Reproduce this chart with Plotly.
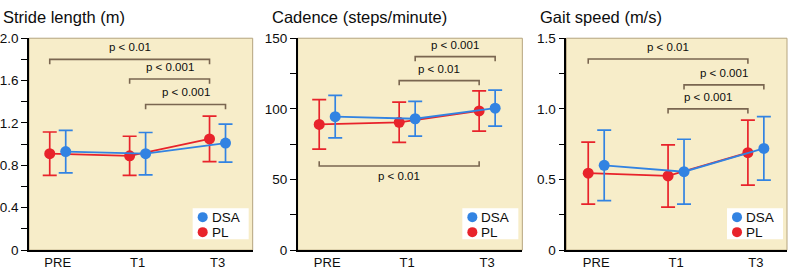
import plotly.graph_objects as go

# ---------------- data ----------------
categories = ["PRE", "T1", "T3"]
groups = ["DSA", "PL"]

titles = ["Stride length (m)", "Cadence (steps/minute)", "Gait speed (m/s)"]

stride_dsa = [0.93, 0.91, 1.01]
stride_dsa_err = [0.20, 0.20, 0.18]
stride_pl = [0.91, 0.89, 1.05]
stride_pl_err = [0.205, 0.185, 0.215]

cadence_dsa = [94.5, 93.0, 100.5]
cadence_dsa_err = [15.0, 12.3, 12.7]
cadence_pl = [89.0, 90.5, 98.5]
cadence_pl_err = [17.5, 14.2, 14.2]

speed_dsa = [0.60, 0.555, 0.72]
speed_dsa_err = [0.25, 0.23, 0.225]
speed_pl = [0.545, 0.525, 0.69]
speed_pl_err = [0.22, 0.22, 0.23]

# y tick values / labels per panel
stride_ticks = [0, 0.2, 0.4, 0.6, 0.8, 1.0, 1.2, 1.4, 1.6, 1.8, 2.0]
stride_ticklabels = ["0", "", "0.4", "", "0.8", "", "1.2", "", "1.6", "", "2.0"]
cadence_ticks = [0, 25, 50, 75, 100, 125, 150]
cadence_ticklabels = ["0", "", "50", "", "100", "", "150"]
speed_ticks = [0, 0.25, 0.5, 0.75, 1.0, 1.25, 1.5]
speed_ticklabels = ["0", "", "0.5", "", "1.0", "", "1.5"]

# significance brackets: (from category, group, to category, group, level, label, direction)
stride_brackets = [("PRE", "PL", "T3", "PL", 1.80, "p < 0.01", "down"),
                   ("T1", "PL", "T3", "PL", 1.615, "p < 0.001", "down"),
                   ("T1", "DSA", "T3", "DSA", 1.375, "p < 0.001", "down")]
cadence_brackets = [("T1", "DSA", "T3", "DSA", 137.0, "p < 0.001", "down"),
                    ("T1", "PL", "T3", "PL", 120.0, "p < 0.01", "down"),
                    ("PRE", "PL", "T3", "PL", 59.5, "p < 0.01", "up")]
speed_brackets = [("PRE", "PL", "T3", "PL", 1.353, "p < 0.01", "down"),
                  ("T1", "DSA", "T3", "DSA", 1.17, "p < 0.001", "down"),
                  ("T1", "PL", "T3", "PL", 1.0, "p < 0.001", "down")]

# ---------------- styling ----------------
W, H = 791, 278
BG = "#F7EDC9"
FRAME = "#B5A47E"
BRACKET = "#7A6650"
RED = "#E8232B"
BLUE = "#3283E2"
COLORS = {"DSA": BLUE, "PL": RED}
FONT = "Liberation Sans, Arial, sans-serif"
TXT = "#0d0d0d"
OFFSET = {"PL": -0.1, "DSA": 0.1}

panels = [
    dict(title=titles[0], dsa=stride_dsa, dsa_e=stride_dsa_err, pl=stride_pl, pl_e=stride_pl_err,
         ticks=stride_ticks, labels=stride_ticklabels, yr=[0, 2.0], br=stride_brackets,
         px=(28, 252), xr=[-0.36, 2.44]),
    dict(title=titles[1], dsa=cadence_dsa, dsa_e=cadence_dsa_err, pl=cadence_pl, pl_e=cadence_pl_err,
         ticks=cadence_ticks, labels=cadence_ticklabels, yr=[0, 150], br=cadence_brackets,
         px=(297, 522), xr=[-0.37, 2.44]),
    dict(title=titles[2], dsa=speed_dsa, dsa_e=speed_dsa_err, pl=speed_pl, pl_e=speed_pl_err,
         ticks=speed_ticks, labels=speed_ticklabels, yr=[0, 1.5], br=speed_brackets,
         px=(566, 787), xr=[-0.375, 2.39]),
]

TOP, BOTTOM = 33, 257
ydom = [(H - BOTTOM) / H, (H - TOP) / H]

fig = go.Figure()
idx = {c: i for i, c in enumerate(categories)}

for k, p in enumerate(panels):
    n = "" if k == 0 else str(k + 1)
    xa, ya = "x" + n, "y" + n
    for grp, vals, errs in (("PL", p["pl"], p["pl_e"]), ("DSA", p["dsa"], p["dsa_e"])):
        col = COLORS[grp]
        xs = [idx[c] + OFFSET[grp] for c in categories]
        fig.add_trace(go.Scatter(
            x=xs, y=vals, mode="lines+markers", xaxis=xa, yaxis=ya, showlegend=False,
            line=dict(color=col, width=1.8),
            marker=dict(color=col, size=11),
            error_y=dict(type="data", array=errs, visible=True, color=col, thickness=1.7, width=7),
            name=grp))

    # brackets
    span = p["yr"][1] - p["yr"][0]
    d = 5 / (BOTTOM - TOP) * span
    for (c1, g1, c2, g2, lvl, txt, direc) in p["br"]:
        x1 = idx[c1] + OFFSET[g1]
        x2 = idx[c2] + OFFSET[g2]
        e = lvl - d if direc == "down" else lvl + d
        fig.add_shape(type="path", xref=xa, yref=ya,
                      path=f"M {x1},{e} L {x1},{lvl} L {x2},{lvl} L {x2},{e}",
                      line=dict(color=BRACKET, width=1.6))
        fig.add_annotation(x=(x1 + x2) / 2, y=lvl, xref=xa, yref=ya, text=txt, showarrow=False,
                           yshift=12 if direc == "down" else -10,
                           font=dict(size=11.5, color=TXT, family=FONT))

    # frame (top/right edges)
    fig.add_shape(type="rect", xref=xa + " domain", yref=ya + " domain", x0=0, x1=1, y0=0, y1=1,
                  line=dict(color=FRAME, width=1), layer="below")

    # legend box (inside, bottom right)
    fig.add_shape(type="rect", xref=xa + " domain", yref=ya + " domain",
                  xsizemode="pixel", ysizemode="pixel", xanchor=1, yanchor=0,
                  x0=-60, x1=-4, y0=11, y1=42, fillcolor="white", line=dict(width=0))
    for j, grp in enumerate(groups):
        yc = 33 - 15 * j
        fig.add_shape(type="circle", xref=xa + " domain", yref=ya + " domain",
                      xsizemode="pixel", ysizemode="pixel", xanchor=1, yanchor=0,
                      x0=-55, x1=-45, y0=yc - 5, y1=yc + 5,
                      fillcolor=COLORS[grp], line=dict(width=0))
        fig.add_annotation(x=1, y=0, xref=xa + " domain", yref=ya + " domain", text=grp,
                           showarrow=False, xanchor="left", yanchor="middle",
                           xshift=-43, yshift=yc, font=dict(size=13.5, color=TXT, family=FONT))

    x0p, x1p = p["px"]
    fig.update_layout(**{
        "xaxis" + n: dict(domain=[x0p / W, x1p / W], range=p["xr"], tickvals=[0, 1, 2],
                          ticktext=categories, showline=True, linecolor="black", linewidth=1.5,
                          ticks="", showgrid=False, zeroline=False, anchor=ya,
                          tickfont=dict(size=13, color=TXT, family=FONT)),
        "yaxis" + n: dict(domain=ydom, range=p["yr"], tickvals=p["ticks"], ticktext=p["labels"],
                          showline=True, linecolor="black", linewidth=1.5, ticks="outside",
                          ticklen=6, tickwidth=1.2, tickcolor="black", showgrid=False,
                          zeroline=False, anchor=xa,
                          tickfont=dict(size=13.5, color=TXT, family=FONT)),
    })
    fig.add_annotation(x=x0p / W, y=1, xref="paper", yref="paper", text=p["title"],
                       showarrow=False, xanchor="left", yanchor="top", xshift=-28, yshift=1,
                       font=dict(size=16.5, color=TXT, family=FONT))

fig.update_layout(width=W, height=H, margin=dict(l=0, r=0, t=0, b=0),
                  plot_bgcolor=BG, paper_bgcolor="white", showlegend=False)

fig.write_html("out.html", config={"displayModeBar": False},
               post_script="document.body.style.margin='0px';document.body.style.overflow='hidden';")
